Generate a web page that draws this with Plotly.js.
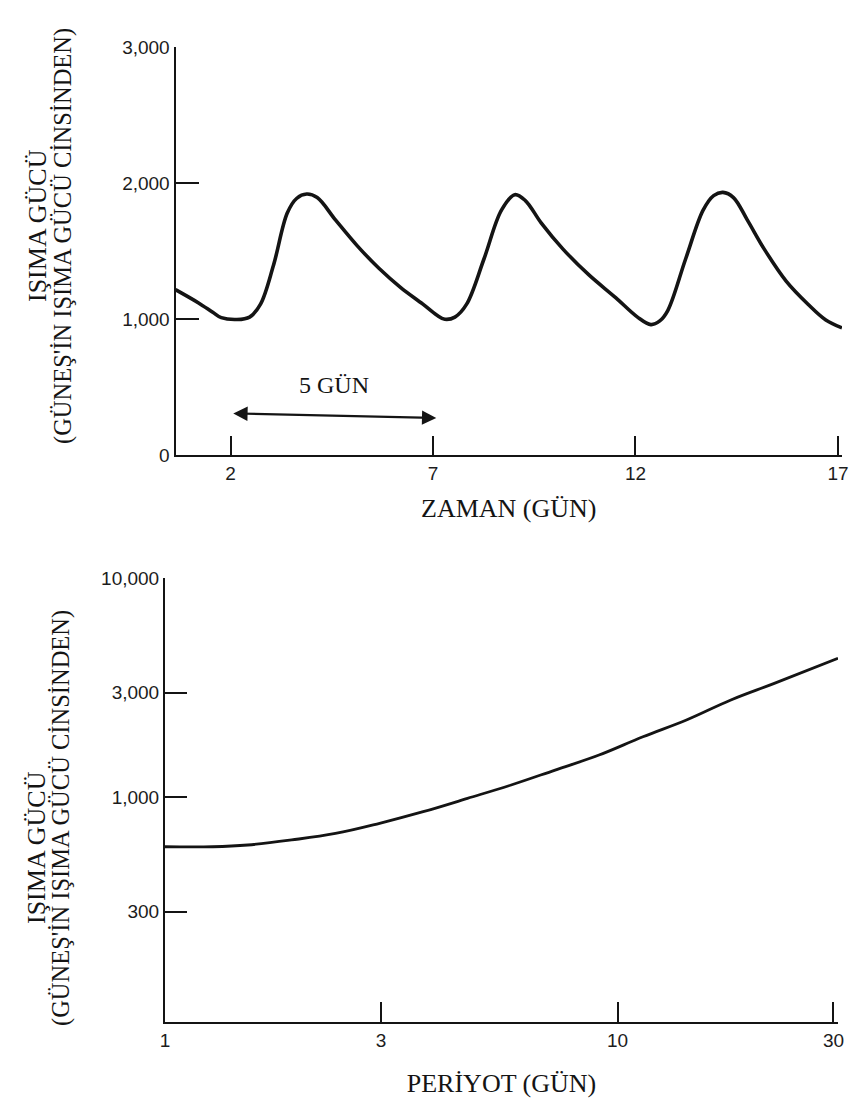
<!DOCTYPE html>
<html>
<head>
<meta charset="utf-8">
<script src="https://cdn.plot.ly/plotly-3.0.1.min.js"></script>
<style>html,body{margin:0;padding:0;background:#fff;}#chart{width:849px;height:1108px;}</style>
</head>
<body>
<div id="chart"></div>
<script>
// Top chart: luminosity vs time (days)
const timeDays = [0.64, 1.20, 1.56, 1.77, 2.15, 2.47, 2.74, 3.06, 3.40, 3.63, 3.88, 4.14, 4.59, 5.13, 5.67, 6.21, 6.75, 7.09, 7.29, 7.54, 7.83, 8.26, 8.69, 9.02, 9.28, 9.67, 10.21, 10.85, 11.51, 12.05, 12.38, 12.60, 12.80, 13.24, 13.67, 13.93, 14.16, 14.42, 14.76, 15.18, 15.72, 16.26, 16.70, 17.10];
const luminosity = [1216, 1120, 1050, 1010, 996, 1014, 1109, 1395, 1779, 1886, 1919, 1893, 1729, 1538, 1371, 1229, 1109, 1029, 998, 1014, 1109, 1443, 1800, 1914, 1871, 1707, 1514, 1324, 1157, 1014, 959, 986, 1064, 1443, 1800, 1907, 1931, 1893, 1729, 1514, 1279, 1109, 993, 935];
const timeTicks = [2, 7, 12, 17];
const timeTickText = ['2', '7', '12', '17'];
const lumTicks = [0, 1000, 2000, 3000];
const lumTickText = ['0', '1,000', '2,000', '3,000'];

// Bottom chart: luminosity vs period (days), log-log
const periodDays = [1.0, 1.275, 1.524, 1.905, 2.38, 2.98, 3.72, 4.66, 5.82, 7.28, 9.10, 11.38, 14.2, 17.8, 22.2, 30.7];
const periodLum = [593, 593, 604, 637, 682, 759, 857, 986, 1135, 1328, 1555, 1885, 2248, 2775, 3304, 4297];
const periodTicks = [1, 3, 10, 30];
const periodTickText = ['1', '3', '10', '30'];
const logLumTicks = [300, 1000, 3000, 10000];
const logLumTickText = ['300', '1,000', '3,000', '10,000'];

const yTitle1 = 'IŞIMA GÜCÜ';
const yTitle2 = "(GÜNEŞ'İN IŞIMA GÜCÜ CİNSİNDEN)";

const W = 849, H = 1108;
const ink = '#141414';
const serif = 'Liberation Serif, Times New Roman, serif';
const tickFont = {family: 'Liberation Sans, Arial, sans-serif', size: 19, color: '#1c1c1c'};
const titleFont = {family: serif, size: 26, color: ink};

function px(x) { return x / W; }
function py(y) { return (H - y) / H; }

const axisCommon = {
  showgrid: false, zeroline: false, showline: true, linewidth: 2, linecolor: ink,
  ticks: 'inside', ticklen: 20, tickwidth: 2, tickcolor: ink, mirror: false,
  tickfont: tickFont, fixedrange: true, ticklabeloverflow: 'allow'
};

const traces = [
  {x: timeDays, y: luminosity, xaxis: 'x', yaxis: 'y', mode: 'lines',
   line: {color: ink, width: 3.6, shape: 'spline', smoothing: 1.0}, hoverinfo: 'skip'},
  {x: periodDays, y: periodLum, xaxis: 'x2', yaxis: 'y2', mode: 'lines',
   line: {color: ink, width: 2.8, shape: 'spline', smoothing: 1.1}, hoverinfo: 'skip'}
];

const layout = {
  width: W, height: H,
  margin: {l: 0, r: 0, t: 0, b: 0},
  paper_bgcolor: '#ffffff', plot_bgcolor: 'rgba(0,0,0,0)',
  showlegend: false,
  xaxis: Object.assign({}, axisCommon, {
    domain: [px(175.5), px(842)], range: [0.64, 17.1], anchor: 'y',
    tickvals: timeTicks, ticktext: timeTickText, ticklen: 19,
    title: {text: 'ZAMAN (GÜN)', font: titleFont, standoff: 16}
  }),
  yaxis: Object.assign({}, axisCommon, {
    domain: [py(455), py(47)], range: [0, 3000], anchor: 'x',
    tickvals: lumTicks, ticktext: lumTickText, ticklen: 23
  }),
  xaxis2: Object.assign({}, axisCommon, {
    domain: [px(165), px(838)], type: 'log', range: [0, Math.log10(30.7)], anchor: 'y2',
    tickvals: periodTicks, ticktext: periodTickText, ticklen: 20,
    title: {text: 'PERİYOT (GÜN)', font: titleFont, standoff: 24}
  }),
  yaxis2: Object.assign({}, axisCommon, {
    domain: [py(1022), py(578)], type: 'log', range: [1.973, 4], anchor: 'x2',
    tickvals: logLumTicks, ticktext: logLumTickText, ticklen: 22
  }),
  annotations: [
    // 5-day arrow
    {xref: 'x', yref: 'y', x: 7.08, y: 272, axref: 'x', ayref: 'y', ax: 2.03, ay: 306,
     text: '', showarrow: true, arrowside: 'end+start', arrowhead: 2, arrowsize: 1.3, arrowwidth: 2.2,
     arrowcolor: ink, standoff: 0, startstandoff: 0},
    {xref: 'x', yref: 'y', x: 4.56, y: 515, text: '5 GÜN', showarrow: false,
     font: {family: serif, size: 24, color: ink}},
    // top y title
    {xref: 'paper', yref: 'paper', x: px(37), y: py(226), text: yTitle1, textangle: -90, showarrow: false,
     xanchor: 'center', yanchor: 'middle', font: {family: serif, size: 26, color: ink}},
    {xref: 'paper', yref: 'paper', x: px(63), y: py(236), text: yTitle2, textangle: -90, showarrow: false,
     xanchor: 'center', yanchor: 'middle', font: {family: serif, size: 24.5, color: ink}},
    // bottom y title
    {xref: 'paper', yref: 'paper', x: px(36), y: py(848), text: yTitle1, textangle: -90, showarrow: false,
     xanchor: 'center', yanchor: 'middle', font: {family: serif, size: 26, color: ink}},
    {xref: 'paper', yref: 'paper', x: px(61), y: py(818), text: yTitle2, textangle: -90, showarrow: false,
     xanchor: 'center', yanchor: 'middle', font: {family: serif, size: 24.5, color: ink}}
  ]
};

Plotly.newPlot('chart', traces, layout, {staticPlot: true, displayModeBar: false});
</script>
</body>
</html>
